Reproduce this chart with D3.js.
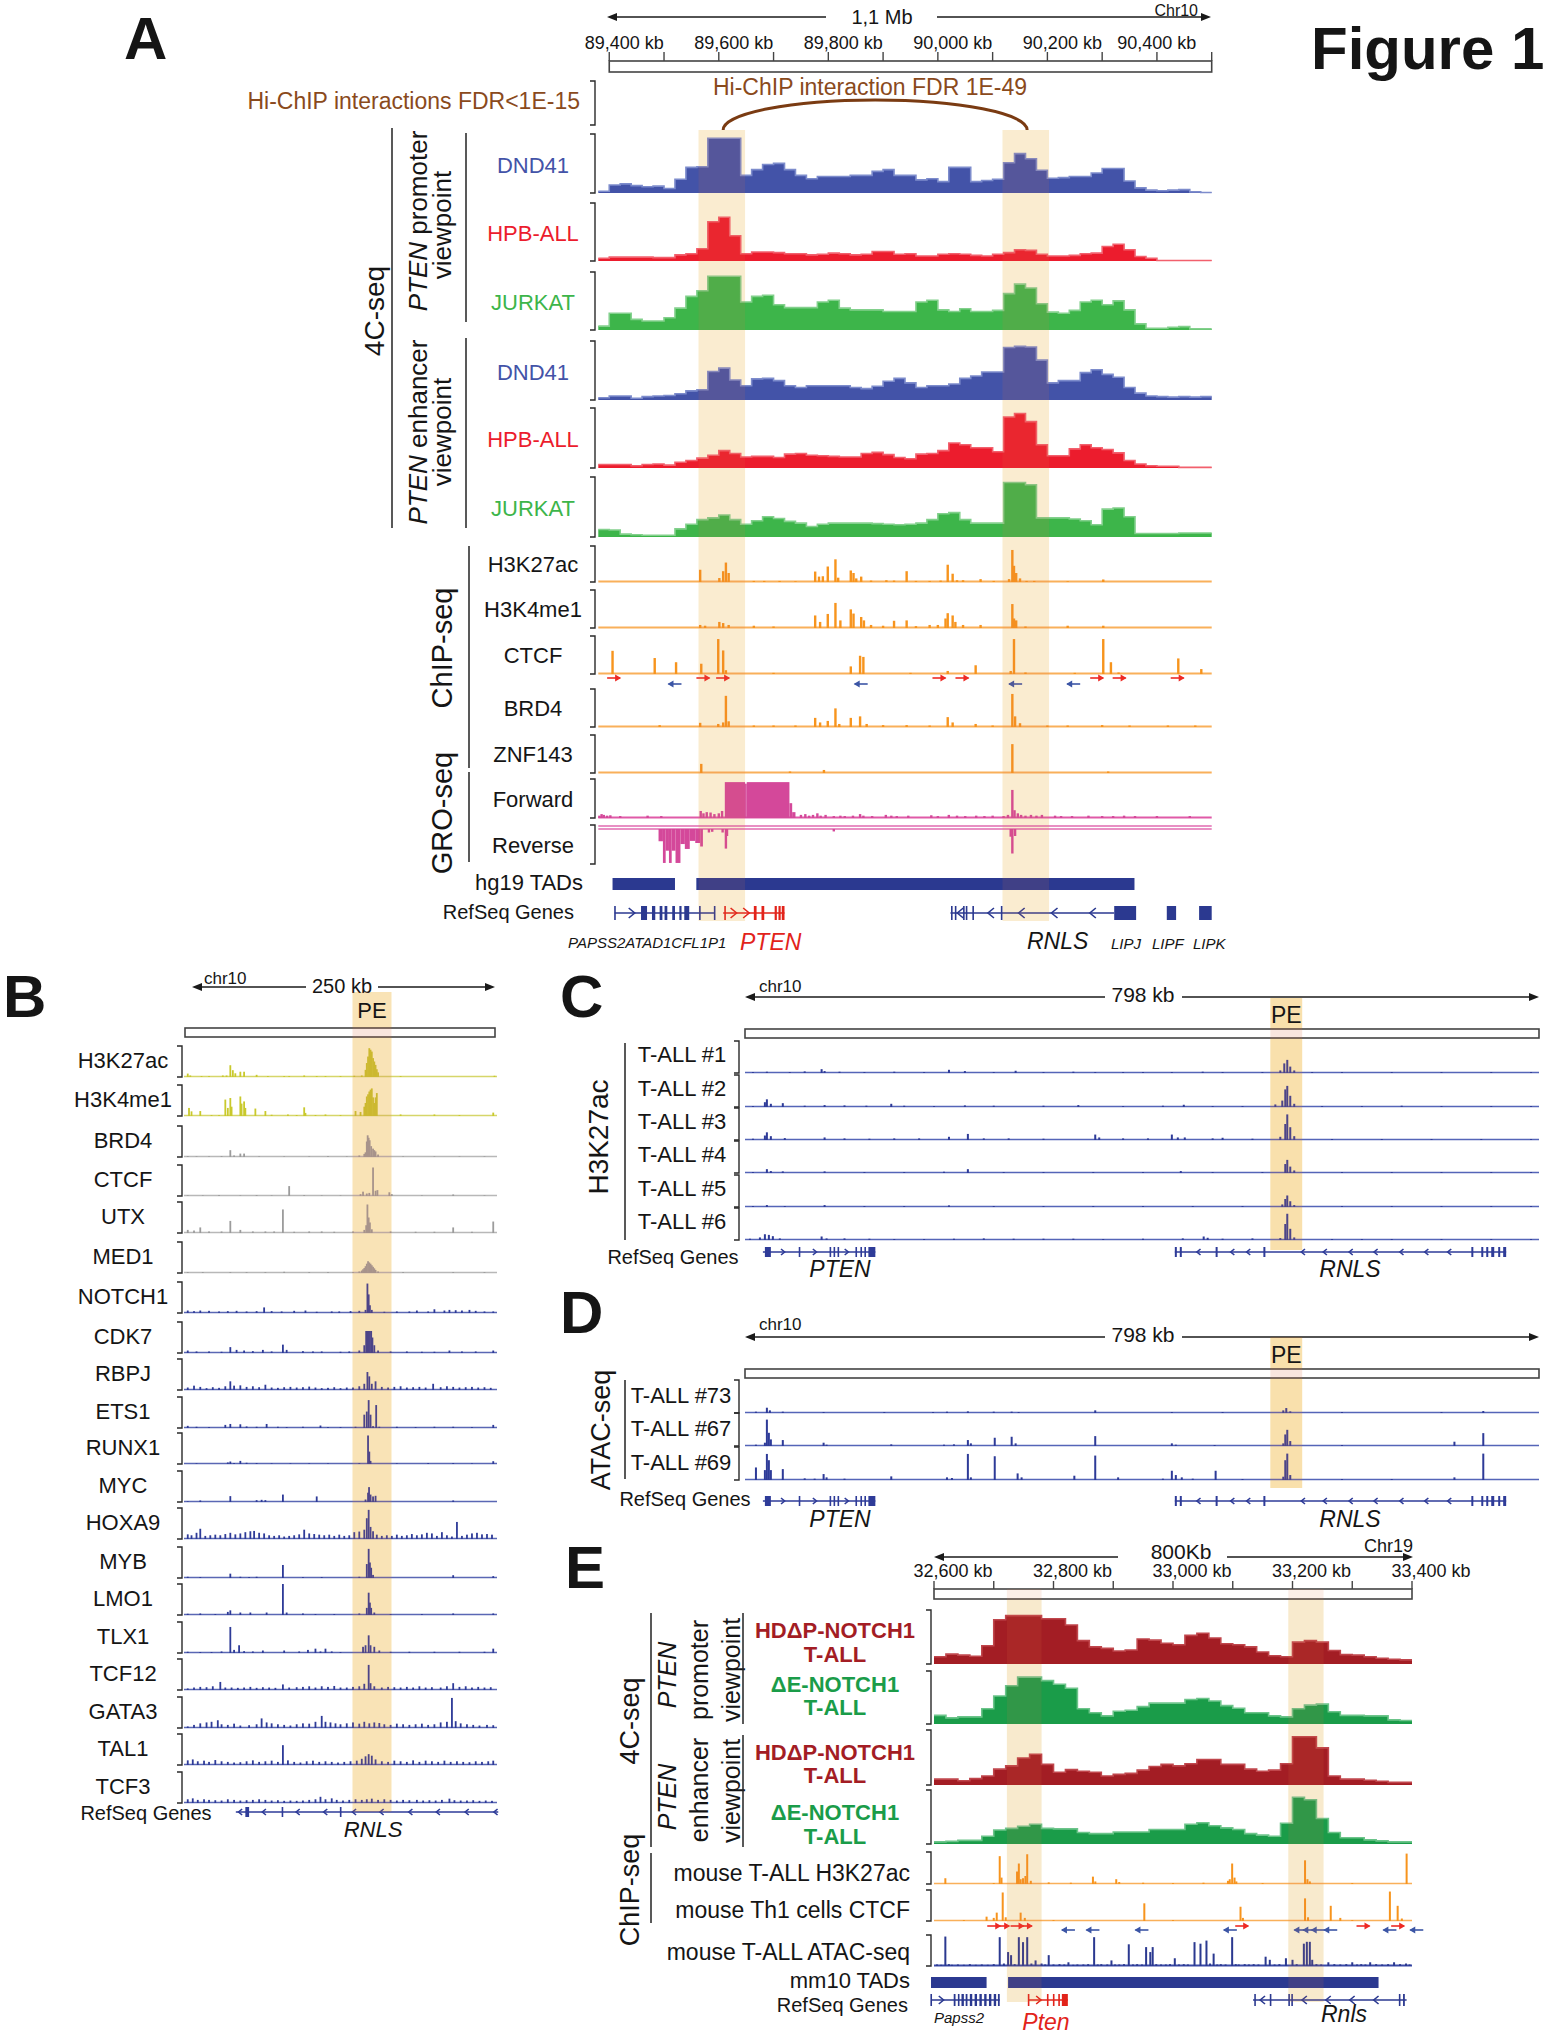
<!DOCTYPE html>
<html>
<head>
<meta charset="utf-8">
<script src="https://cdn.jsdelivr.net/npm/d3@7"></script>
<style>
html,body{margin:0;padding:0;background:#fff;}
svg{display:block;}
</style>
</head>
<body>
<svg id="fig" width="1552" height="2040" xmlns="http://www.w3.org/2000/svg"></svg>
<script>
// ============================ DATA ============================
// ---------- Panel A (chr10, kb) ----------
const A_binStart = 89380;
const A_binSize = 20;
const A_rulerTicks = [89400,89500,89600,89700,89800,89900,90000,90100,90200,90300,90400,90500];
const A_tickLabels = [[89400,"89,400 kb"],[89600,"89,600 kb"],[89800,"89,800 kb"],[90000,"90,000 kb"],[90200,"90,200 kb"],[90400,"90,400 kb"]];
const A_highlights = [[89563,89648],[90118,90203]];
const A_hichipLoop = [89608,90163];
const A_cellLines = ["DND41","HPB-ALL","JURKAT"];
// 4C-seq, PTEN promoter viewpoint (20-kb bins, % of track height)
const A_prom_DND41 = [3,14,16,13,11,12,8,24,45,46,96,96,96,31,41,50,52,41,31,25,29,29,29,31,31,38,41,31,31,23,25,20,45,45,20,22,24,53,69,60,40,26,27,29,29,35,43,43,21,9,5,4,5,6,2,1];
const A_prom_HPB = [5,7,7,7,7,6,6,11,13,22,70,78,45,13,16,16,15,13,13,11,12,14,13,11,12,17,17,12,13,9,9,12,13,12,10,9,12,15,20,19,12,9,9,10,13,14,26,30,20,8,5,1,1,1,1,1];
const A_prom_JURKAT = [7,30,30,19,16,16,22,39,60,70,96,96,96,50,60,62,45,40,40,40,50,53,39,36,36,36,33,33,33,50,53,36,33,38,33,33,35,65,82,75,47,32,30,35,50,53,45,52,36,11,3,3,5,6,2,2];
// 4C-seq, PTEN enhancer viewpoint
const A_enh_DND41 = [4,7,7,3,6,7,8,11,16,18,50,56,35,25,37,38,34,25,22,25,25,25,25,22,20,24,33,38,30,22,25,25,28,38,42,49,49,92,94,93,70,30,34,34,48,53,45,40,22,12,7,6,5,6,5,6];
const A_enh_HPB = [6,6,6,4,6,7,5,10,13,17,22,30,25,19,20,20,18,24,25,22,21,20,19,19,25,27,23,18,16,24,25,30,43,40,35,35,28,88,94,80,40,21,21,33,40,35,32,26,13,7,4,3,3,1,1,1];
const A_enh_JURKAT = [13,12,5,4,3,3,3,14,22,30,33,38,30,22,28,35,32,27,24,18,22,24,24,24,24,23,22,21,22,24,30,40,42,30,24,24,24,94,94,90,33,33,33,31,28,21,48,50,35,6,6,6,6,7,7,7];
// ChIP-seq peaks [kb, % of track height]
const A_chipNames = ["H3K27ac","H3K4me1","CTCF","BRD4","ZNF143"];
const A_H3K27ac = [[89566,34],[89601,11],[89608,30],[89613,54],[89618,25],[89664,3],[89683,3],[89711,3],[89740,2],[89776,29],[89783,15],[89790,16],[89799,43],[89813,63],[89818,12],[89841,32],[89846,25],[89851,10],[89860,15],[89878,4],[89906,5],[89920,4],[89943,30],[89960,3],[89985,3],[90005,4],[90018,48],[90027,23],[90035,5],[90046,5],[90078,8],[90102,3],[90130,8],[90136,89],[90139,45],[90143,25],[90150,10],[90162,3],[90176,3],[90237,2],[90302,7]];
const A_H3K4me1 = [[89566,8],[89575,6],[89601,16],[89608,13],[89618,8],[89664,6],[89700,4],[89776,33],[89785,16],[89799,37],[89813,66],[89822,20],[89841,49],[89846,38],[89860,29],[89865,20],[89878,8],[89900,6],[89920,19],[89943,20],[89960,5],[89985,8],[90000,8],[90014,25],[90018,39],[90027,33],[90032,16],[90046,8],[90078,8],[90136,63],[90139,25],[90143,20],[90160,4],[90237,6],[90302,6]];
const A_CTCF = [[89406,61],[89483,42],[89522,31],[89568,27],[89599,92],[89608,62],[89613,10],[89700,3],[89841,20],[89858,48],[89864,45],[89950,3],[90018,8],[90069,23],[90133,8],[90139,92],[90160,4],[90250,3],[90302,92],[90316,31],[90330,4],[90439,41],[90481,13]];
const A_BRD4 = [[89492,5],[89566,11],[89599,8],[89608,12],[89613,82],[89618,15],[89664,4],[89700,4],[89740,4],[89776,24],[89785,12],[89799,16],[89813,49],[89820,8],[89841,24],[89858,28],[89870,8],[89900,5],[89943,5],[89985,4],[90018,26],[90027,12],[90069,8],[90100,4],[90136,87],[90141,28],[90150,10],[90200,4],[90237,4],[90300,5],[90350,4],[90420,4],[90470,4]];
const A_ZNF143 = [[89568,24],[89730,4],[89792,8],[90136,76],[90311,4]];
const A_ctcfMotifFwd = [89408,89571,89607,90002,90044,90290,90331,90437];
const A_ctcfMotifRev = [89520,89860,90142,90248];
// GRO-seq [start, end, %] blocks and [kb, %] spikes
const A_groFwdBlocks = [[89611,89648,92],[89648,89651,88],[89651,89729,92],[89729,89734,38],[89734,89740,15]];
const A_groFwdSpikes = [[89382,6],[89386,10],[89390,8],[89396,6],[89402,7],[89420,5],[89470,6],[89495,5],[89567,18],[89572,12],[89578,15],[89585,14],[89592,10],[89600,12],[89606,18],[89750,8],[89758,10],[89765,6],[89772,8],[89780,12],[89786,6],[89795,8],[89810,5],[89822,6],[89830,5],[89845,6],[89858,10],[89864,6],[89880,5],[89905,8],[89915,6],[89925,5],[89946,6],[89988,7],[90000,5],[90020,8],[90035,6],[90050,5],[90070,6],[90085,5],[90100,6],[90120,5],[90128,8],[90136,72],[90140,20],[90146,12],[90152,8],[90160,6],[90170,8],[90180,6],[90190,8],[90214,6],[90225,5],[90245,5],[90275,6],[90300,5],[90320,5],[90340,6],[90360,5],[90400,5],[90460,5]];
const A_groRevBlocks = [[89490,89498,35],[89498,89503,97],[89503,89509,62],[89509,89514,97],[89514,89521,62],[89521,89530,97],[89530,89538,43],[89538,89547,57],[89547,89557,34],[89557,89566,40],[89566,89571,50]];
const A_groRevSpikes = [[89582,10],[89588,8],[89607,10],[89613,56],[89615,20],[89810,7],[90133,22],[90136,70],[90141,20]];
const A_TADs = [[89406,89520],[89559,90359]];
// RefSeq genes
const A_PAPSS2 = {span:[89410,89592], exons:[[89409,89411],[89458,89469],[89478,89484],[89492,89497],[89501,89506],[89515,89520],[89528,89532],[89537,89546],[89564,89566],[89591,89593]], fwd:[89441], rev:[]};
const A_PTEN = {span:[89608,89720], exons:[[89610,89612],[89664,89669],[89678,89683],[89702,89706],[89709,89713],[89715,89720]], fwd:[89627,89650], rev:[]};
const A_RNLS = {span:[90023,90322], exons:[[90024,90026],[90031,90033],[90046,90048],[90051,90053],[90063,90065],[90115,90117]], fwd:[], rev:[90041,90097,90153,90213,90283]};
const A_LIP = {span:[90322,90322], exons:[[90322,90362],[90418,90435],[90477,90500]], fwd:[], rev:[]};
const A_geneNames = ["PAPSS2ATAD1CFL1P1","PTEN","RNLS","LIPJ","LIPF","LIPK"];

// ---------- Panel B (250-kb window, kb from left edge) ----------
const B_highlight = [134.6,165.7];
const B_trackNames = ["H3K27ac","H3K4me1","BRD4","CTCF","UTX","MED1","NOTCH1","CDK7","RBPJ","ETS1","RUNX1","MYC","HOXA9","MYB","LMO1","TLX1","TCF12","GATA3","TAL1","TCF3"];
const B_H3K27ac = [[3,11],[5,5],[14,3],[20,3],[31,5],[34,5],[37,38],[39,22],[41,12],[45,17],[48,17],[58,7],[67,3],[80,3],[84,3],[96,5],[106,3],[113,3],[125,3],[136,4],[142,5],[145,23],[146,45],[147,66],[148,93],[149,88],[150,82],[151,61],[152,50],[153,39],[154,25],[155,15],[173,3],[248,4]];
const B_H3K4me1 = [[4,26],[6,15],[13,16],[22,3],[28,3],[33,53],[35,26],[37,58],[38,30],[45,63],[46,40],[48,47],[49,26],[57,24],[65,16],[70,4],[83,5],[90,3],[96,28],[97,10],[105,3],[113,5],[125,3],[137,16],[141,13],[144,30],[145,42],[146,63],[147,70],[148,79],[149,85],[150,89],[151,60],[152,42],[153,60],[154,74],[173,5],[200,5],[220,3],[247,11]];
const B_BRD4 = [[3,3],[10,2],[20,2],[30,3],[37,22],[40,5],[45,11],[48,11],[60,2],[80,2],[100,2],[115,3],[130,2],[140,5],[144,10],[145,15],[146,50],[146.7,70],[147.5,62],[148.3,54],[149.5,35],[151,27],[152,22],[153,18],[155,8],[175,2],[200,2],[220,2],[240,2]];
const B_CTCF = [[3,2],[15,2],[28,3],[45,2],[58,3],[70,2],[84,32],[96,3],[110,2],[125,2],[141,6],[143,14],[146,8],[148,10],[151,92],[153,17],[154.5,19],[164,12],[166,6],[190,2],[215,5],[240,2]];
const B_UTX = [[3,10],[8,8],[13,18],[20,5],[30,5],[37,39],[45,10],[55,5],[65,5],[72,5],[79,76],[88,4],[100,5],[110,5],[120,4],[135,5],[144,10],[145.5,25],[146.5,92],[147.5,50],[148.5,34],[150,12],[165,5],[185,4],[200,4],[215,18],[230,4],[247,37]];
const B_MED1 = [[3,3],[15,3],[37,3],[50,3],[65,3],[80,4],[100,3],[115,3],[135,3],[140,5],[142,8],[143,12],[144,16],[145,22],[146,30],[147,38],[148,34],[149,30],[150,25],[151,20],[152,15],[153,10],[155,5],[175,3],[215,3],[240,3]];
const B_NOTCH1 = [[3,8],[8,6],[13,8],[20,7],[28,5],[35,6],[42,7],[50,5],[58,6],[64,18],[70,6],[78,5],[88,7],[97,8],[106,4],[118,5],[124,5],[133,6],[140,7],[145,10],[146.5,95],[147.5,60],[148.5,25],[150,10],[160,4],[170,5],[180,5],[186,8],[195,5],[200,12],[208,8],[212,10],[217,9],[222,8],[228,10],[233,7],[240,5],[247,5]];
const B_CDK7 = [[3,8],[10,5],[20,5],[30,4],[37,19],[42,10],[48,8],[55,6],[63,10],[70,5],[79,27],[82,10],[95,6],[103,5],[110,5],[125,4],[132,5],[140,8],[144,25],[145.5,71],[146.5,71],[147.5,71],[148.5,71],[149.5,71],[150.5,50],[152,25],[155,8],[165,5],[178,5],[190,4],[200,4],[212,8],[222,5],[233,5],[247,8]];
const B_RBPJ = [[3,8],[8,14],[13,10],[18,6],[23,9],[28,7],[33,12],[37,28],[40,14],[45,15],[50,10],[55,12],[60,9],[65,17],[70,8],[75,7],[80,9],[85,10],[90,8],[95,9],[100,11],[105,8],[110,6],[115,7],[120,9],[125,6],[130,8],[135,8],[140,12],[144,20],[146.5,58],[148,44],[150,20],[153,28],[158,10],[163,8],[168,10],[173,12],[178,8],[183,9],[188,10],[193,8],[199,20],[205,9],[210,12],[215,10],[220,8],[225,9],[230,10],[235,8],[240,9],[245,7]];
const B_ETS1 = [[3,7],[10,4],[20,3],[33,10],[37,13],[45,12],[50,5],[58,4],[66,13],[75,4],[82,3],[95,4],[109,8],[115,3],[125,3],[137,4],[144,43],[146,53],[147.5,90],[149,43],[151,6],[153.5,74],[156,4],[170,4],[185,3],[200,4],[215,4],[230,3],[247,10]];
const B_RUNX1 = [[10,2],[35,5],[37,8],[40,3],[45,10],[50,4],[58,3],[70,2],[85,2],[100,2],[115,2],[140,3],[147,92],[148,40],[149,10],[170,2],[195,3],[215,3],[230,2],[247,9]];
const B_MYC = [[3,2],[13,5],[37,19],[58,6],[62,7],[65,6],[79,24],[106,18],[145,8],[147,30],[147.8,48],[149,24],[151,18],[153,20],[215,5]];
const B_HOXA9 = [[3,15],[6,12],[10,20],[13,33],[17,10],[21,12],[25,14],[29,12],[33,16],[37,20],[41,15],[45,18],[49,22],[53,25],[56,26],[60,20],[64,18],[68,12],[72,10],[76,12],[80,8],[84,10],[88,12],[92,15],[96,30],[100,18],[104,16],[108,14],[112,12],[116,14],[120,10],[124,14],[128,10],[132,12],[136,22],[140,24],[144,30],[146,67],[147.5,94],[149,39],[151,25],[154,14],[158,10],[162,12],[166,10],[170,14],[174,10],[178,12],[182,16],[186,12],[190,15],[194,20],[198,18],[202,10],[206,22],[210,12],[214,8],[218,55],[222,10],[226,14],[230,18],[234,20],[238,15],[242,16],[246,14]];
const B_MYB = [[3,4],[13,3],[37,14],[45,4],[52,3],[58,4],[79,42],[95,3],[110,3],[140,4],[146,45],[147.5,94],[148.5,50],[149.5,33],[151,10],[215,9],[247,6]];
const B_LMO1 = [[3,4],[13,5],[25,3],[35,10],[37,15],[45,8],[53,8],[66,8],[79,100],[82,8],[95,5],[105,3],[120,3],[140,5],[146,23],[147.5,72],[148.5,40],[149.5,23],[152,8],[165,3],[190,3],[215,5],[247,5]];
const B_TLX1 = [[3,4],[13,3],[22,3],[30,5],[37,84],[40,10],[44,25],[48,6],[55,5],[63,8],[80,8],[92,5],[99,10],[105,14],[109,5],[113,14],[118,5],[125,3],[143,20],[145,25],[147.5,57],[149,25],[152,20],[156,8],[165,4],[180,4],[200,4],[220,4],[240,4],[247,14]];
const B_TCF12 = [[3,5],[8,8],[13,10],[18,9],[23,12],[29,26],[33,8],[38,8],[43,7],[48,8],[53,10],[58,7],[63,9],[68,8],[73,7],[79,18],[84,8],[90,9],[95,10],[100,12],[105,8],[110,12],[115,10],[120,13],[125,8],[130,8],[135,10],[140,12],[144,20],[147.5,81],[149,22],[152,12],[158,8],[163,10],[168,9],[173,8],[178,10],[183,8],[188,12],[193,8],[198,9],[205,8],[210,12],[215,22],[220,10],[225,12],[230,8],[235,10],[240,8],[245,9]];
const B_GATA3 = [[3,5],[8,10],[13,15],[18,18],[22,20],[27,25],[30,12],[35,10],[40,14],[45,8],[52,9],[58,12],[62,31],[66,18],[70,15],[75,12],[80,10],[85,8],[90,12],[95,15],[100,14],[105,20],[110,39],[113,20],[117,18],[121,15],[125,12],[130,15],[135,18],[140,14],[144,20],[148,15],[152,18],[156,16],[160,12],[165,10],[170,14],[175,12],[180,10],[185,12],[190,14],[195,10],[200,12],[205,18],[210,20],[214,97],[217,22],[221,15],[226,12],[231,10],[236,8],[242,10],[247,9]];
const B_TAL1 = [[3,15],[7,18],[11,12],[16,14],[20,10],[25,16],[30,12],[35,10],[40,8],[45,9],[50,12],[55,15],[60,10],[65,12],[70,14],[75,10],[79,64],[83,15],[88,10],[93,8],[98,12],[103,14],[108,10],[113,12],[118,10],[123,8],[128,10],[133,12],[138,14],[142,20],[145,28],[147.5,35],[150,30],[153,18],[158,12],[163,10],[168,14],[173,12],[178,10],[183,15],[188,10],[193,14],[198,12],[203,10],[208,14],[213,10],[218,12],[223,10],[228,9],[233,12],[238,10],[243,12],[247,14]];
const B_TCF3 = [[3,12],[7,15],[11,10],[16,12],[20,10],[25,9],[30,8],[35,12],[40,10],[45,8],[50,9],[55,10],[60,12],[65,10],[70,8],[75,9],[80,7],[85,8],[90,7],[95,8],[100,10],[105,12],[109,20],[113,12],[118,15],[122,10],[127,8],[132,10],[137,12],[142,10],[146,12],[150,14],[155,10],[160,12],[165,10],[170,8],[175,10],[180,9],[186,10],[191,8],[196,9],[201,8],[206,10],[212,14],[216,9],[221,8],[226,8],[231,9],[236,7],[241,8],[246,7]];
const B_RNLS = {span:[41.4,251], exons:[[49,52],[78,79],[124.5,125.8]], fwd:[], rev:[45,64,91,113,136,158,181,203,226,249]};

// ---------- Panels C & D (798-kb window) ----------
const CD_highlight = [528,560];
const C_sampleNames = ["T-ALL #1","T-ALL #2","T-ALL #3","T-ALL #4","T-ALL #5","T-ALL #6"];
const C_TALL1 = [[8,3],[22,4],[45,3],[60,5],[77,12],[80,6],[95,4],[120,3],[150,4],[180,3],[205,10],[221,6],[250,3],[272,7],[300,3],[330,4],[352,3],[380,3],[400,3],[429,3],[460,4],[480,3],[520,3],[538,8],[542,30],[545,41],[548,20],[552,8],[570,3],[600,3],[650,3],[700,3],[750,3],[790,3]];
const C_TALL2 = [[8,3],[20,15],[22,24],[26,10],[38,12],[60,4],[80,6],[100,5],[122,4],[147,10],[160,4],[190,3],[221,5],[250,4],[300,4],[335,6],[380,3],[420,4],[441,7],[470,3],[500,3],[533,8],[540,20],[543,55],[545,66],[548,35],[552,10],[580,3],[620,3],[660,4],[700,3],[750,3],[790,3]];
const C_TALL3 = [[8,4],[20,14],[22,24],[26,12],[40,6],[80,8],[100,5],[125,4],[150,5],[175,5],[205,10],[224,19],[240,5],[265,5],[300,4],[352,17],[356,8],[380,5],[405,5],[429,17],[435,8],[442,8],[470,5],[480,7],[510,4],[538,10],[543,50],[545,80],[548,40],[552,12],[590,3],[640,3],[690,3],[740,3],[790,3]];
const C_TALL4 = [[8,3],[22,12],[26,6],[38,5],[80,5],[120,3],[160,3],[200,4],[224,12],[260,3],[300,3],[350,3],[400,3],[438,6],[470,3],[520,3],[543,28],[545,41],[548,20],[552,8],[600,3],[650,3],[700,3],[750,3],[790,3]];
const C_TALL5 = [[8,3],[22,6],[40,3],[80,6],[120,3],[160,3],[205,5],[250,3],[300,3],[350,3],[400,3],[450,3],[500,3],[540,8],[543,25],[545,36],[548,18],[552,6],[600,3],[650,3],[700,3],[750,3],[790,3]];
const C_TALL6 = [[5,4],[15,8],[20,18],[24,16],[28,12],[35,5],[77,11],[82,5],[100,5],[125,4],[150,3],[180,3],[210,4],[240,5],[270,4],[300,4],[330,4],[360,3],[400,4],[440,5],[461,11],[465,7],[480,4],[510,5],[538,6],[543,50],[545,82],[548,35],[552,8],[590,3],[620,3],[650,3],[700,3],[750,3],[790,3]];
const D_sampleNames = ["T-ALL #73","T-ALL #67","T-ALL #69"];
const D_TALL73 = [[11,4],[22,16],[25,8],[38,4],[79,3],[140,3],[189,3],[203,4],[224,5],[250,4],[268,4],[275,3],[352,8],[429,3],[480,3],[541,8],[544,15],[548,5],[600,3],[700,3],[742,6]];
const D_TALL67 = [[11,4],[20,10],[22,80],[24,40],[26,20],[38,18],[79,10],[82,4],[147,5],[200,4],[210,5],[224,18],[227,8],[251,25],[268,28],[272,8],[352,30],[429,8],[433,4],[472,3],[541,8],[543,35],[545,49],[548,15],[600,3],[713,13],[742,39]];
const D_TALL69 = [[11,38],[20,30],[22,79],[24,60],[26,30],[38,33],[60,5],[70,4],[79,18],[82,8],[100,4],[147,11],[203,8],[208,6],[224,79],[227,8],[251,72],[274,20],[278,8],[331,13],[352,74],[375,8],[420,4],[429,28],[433,15],[439,8],[450,4],[473,28],[500,3],[541,10],[543,60],[545,80],[548,15],[600,3],[650,3],[713,8],[742,80]];
const CD_PTEN = {span:[18,131], exons:[[20,26],[54,55.5],[85,86.5],[89,90.5],[93,94.5],[111,112.5],[116,117.5],[120,121.5],[124,131]], fwd:[38,70,102], rev:[]};
const CD_RNLS = {span:[432,765], exons:[[432,434],[437,439],[473,475],[521,523],[730,732],[740,742],[745,747],[750,753],[757,759],[762,765]], fwd:[], rev:[456,490,506,561,583,609,634,660,685,708]};

// ---------- Panel E (chr19, kb) ----------
const E_binStart = 32600;
const E_binSize = 20;
const E_rulerTicks = [32600,32700,32800,32900,33000,33100,33200,33300,33400];
const E_tickLabels = [[32600,"32,600 kb"],[32800,"32,800 kb"],[33000,"33,000 kb"],[33200,"33,200 kb"],[33400,"33,400 kb"]];
const E_highlights = [[32722,32780],[33193,33252]];
const E_4C_names = [["HD\u0394P-NOTCH1","T-ALL"],["\u0394E-NOTCH1","T-ALL"],["HD\u0394P-NOTCH1","T-ALL"],["\u0394E-NOTCH1","T-ALL"]];
const E_prom_HDdP = [14,19,17,15,35,85,93,93,93,87,87,75,45,33,30,25,27,48,46,40,37,55,59,50,39,37,33,23,16,14,42,45,42,26,18,17,14,11,9,8];
const E_prom_dE = [17,12,14,14,30,55,75,92,92,85,78,70,30,22,16,25,27,34,41,41,41,48,50,45,36,31,22,22,16,14,30,37,39,24,17,17,16,16,8,7];
const E_enh_HDdP = [11,11,8,12,17,30,36,51,58,39,24,29,26,24,17,20,22,28,35,39,36,40,48,48,39,39,30,26,28,40,91,91,70,17,11,11,9,7,5,5];
const E_enh_dE = [4,5,7,7,15,27,30,34,38,30,29,29,22,20,20,23,23,23,28,28,28,38,41,35,31,28,20,17,15,40,90,85,49,22,12,12,8,6,4,4];
const E_chipNames = ["mouse T-ALL H3K27ac","mouse Th1 cells CTCF","mouse T-ALL ATAC-seq"];
const E_H3K27ac = [[32619,18],[32700,3],[32710,87],[32713,20],[32739,39],[32742,64],[32745,15],[32749,18],[32753,25],[32756,93],[32762,10],[32792,5],[32829,4],[32866,23],[32870,8],[32905,15],[32910,6],[32950,4],[33000,3],[33051,4],[33092,10],[33095,15],[33099,64],[33103,20],[33106,8],[33150,3],[33221,74],[33225,15],[33229,8],[33300,3],[33391,95]];
const E_CTCF = [[32650,3],[32688,14],[32700,10],[32705,27],[32715,92],[32720,12],[32745,27],[32752,10],[32800,3],[32952,57],[33000,3],[33113,46],[33117,10],[33221,73],[33226,12],[33264,49],[33280,10],[33300,3],[33363,95],[33376,49],[33383,8]];
const E_ATAC = [[32605,5],[32612,4],[32619,95],[32625,6],[32630,4],[32640,5],[32650,4],[32660,6],[32670,4],[32680,5],[32690,4],[32700,6],[32710,93],[32717,8],[32724,45],[32729,35],[32735,6],[32742,93],[32749,77],[32756,93],[32763,8],[32770,18],[32780,8],[32786,5],[32792,35],[32800,5],[32810,6],[32818,5],[32825,12],[32833,4],[32840,5],[32850,5],[32858,6],[32868,93],[32874,5],[32880,6],[32890,5],[32897,18],[32903,5],[32910,5],[32918,6],[32926,70],[32933,5],[32940,6],[32948,5],[32955,61],[32962,45],[32966,61],[32972,6],[32980,5],[32988,5],[32995,6],[33003,25],[33010,5],[33018,6],[33025,5],[33036,77],[33046,72],[33056,82],[33062,8],[33068,40],[33074,5],[33080,6],[33088,5],[33099,93],[33105,6],[33110,5],[33120,6],[33127,5],[33135,6],[33143,5],[33155,30],[33162,20],[33170,5],[33178,6],[33189,25],[33200,20],[33207,6],[33219,72],[33224,78],[33229,78],[33233,20],[33240,6],[33248,5],[33260,12],[33270,6],[33280,5],[33290,6],[33300,12],[33308,5],[33315,6],[33322,5],[33330,12],[33340,6],[33350,5],[33360,6],[33370,12],[33380,6],[33390,8],[33396,5]];
const E_ctcfMotifFwd = [32700,32715,32739,32753,33115,33318,33376];
const E_ctcfMotifRev = [32825,32866,32948,33096,33214,33229,33243,33264,33363,33408];
const E_TADs = [[32595,32688],[32724,33344]];
const E_Papss2 = {span:[32595,32710], exons:[[32594,32596],[32633,32636],[32640,32642],[32646,32650],[32653,32656],[32660,32664],[32668,32672],[32676,32680],[32684,32688],[32692,32696],[32700,32704],[32707,32710]], fwd:[32612], rev:[]};
const E_Pten = {span:[32758,32824], exons:[[32757,32759],[32789,32791],[32799,32801],[32808,32810],[32814,32824]], fwd:[32775], rev:[]};
const E_Rnls = {span:[33134,33391], exons:[[33136,33138],[33162,33164],[33193,33195],[33198,33200],[33378,33380],[33385,33388]], fwd:[], rev:[33150,33220,33260,33300,33340]};
const E_geneNames = ["Papss2","Pten","Rnls"];

// ============================ DRAWING ============================
const FONT = '"Liberation Sans", Arial, Helvetica, sans-serif';
const svg = d3.select('#fig').style('font-family', FONT);
svg.append('rect').attr('width',1552).attr('height',2040).attr('fill','#fff');

function T(g, x, y, s, o = {}) {
  const t = g.append('text').attr('x', x).attr('y', y).text(s)
    .attr('font-size', o.size || 20).attr('fill', o.color || '#151515')
    .attr('text-anchor', o.anchor || 'start');
  if (o.weight) t.attr('font-weight', o.weight);
  if (o.italic) t.attr('font-style', 'italic');
  return t;
}
// rotated (bottom-to-top) text centred on (cx, cy); parts = [[text, italic], ...]
function R(g, cx, cy, parts, size, color) {
  const t = g.append('text')
    .attr('transform', `translate(${cx + 0.34 * size},${cy}) rotate(-90)`)
    .attr('text-anchor', 'middle').attr('font-size', size).attr('fill', color || '#151515');
  parts.forEach(p => t.append('tspan').text(p[0]).attr('font-style', p[1] ? 'italic' : 'normal'));
  return t;
}
function bracket(g, x, y0, y1) {
  g.append('path').attr('d', `M${x - 5},${y0}H${x}V${y1}H${x - 5}`)
    .attr('fill', 'none').attr('stroke', '#2a2a2a').attr('stroke-width', 1.4);
}
function vline(g, x, y0, y1, w) {
  g.append('line').attr('x1', x).attr('x2', x).attr('y1', y0).attr('y2', y1)
    .attr('stroke', '#222').attr('stroke-width', w || 1.5);
}
function stepArea(g, x, start, size, vals, top, bot, fill, stroke) {
  const h = bot - top;
  const pts = vals.map((v, i) => ({k: start + i * size, v}));
  pts.push({k: start + vals.length * size, v: vals[vals.length - 1]});
  const y = d => bot - d.v / 100 * h;
  g.append('path').attr('d', d3.area().x(d => x(d.k)).y0(bot).y1(y).curve(d3.curveStepAfter)(pts)).attr('fill', fill);
  g.append('path').attr('d', d3.line().x(d => x(d.k)).y(y).curve(d3.curveStepAfter)(pts))
    .attr('fill', 'none').attr('stroke', stroke).attr('stroke-width', 1.6);
}
function spikes(g, x, data, top, bot, fill, w, base, baseW) {
  const h = bot - top;
  if (base) g.append('line').attr('x1', x.range()[0]).attr('x2', x.range()[1]).attr('y1', bot - 0.5).attr('y2', bot - 0.5)
    .attr('stroke', base).attr('stroke-width', baseW || 1.5);
  g.selectAll(null).data(data).join('rect')
    .attr('x', d => x(d[0]) - w / 2).attr('width', w)
    .attr('y', d => bot - d[1] / 100 * h).attr('height', d => d[1] / 100 * h).attr('fill', fill);
}
function blocks(g, x, data, top, bot, fill, down) {
  const h = bot - top;
  g.selectAll(null).data(data).join('rect')
    .attr('x', d => x(d[0])).attr('width', d => Math.max(1, x(d[1]) - x(d[0])))
    .attr('y', d => down ? top : bot - d[2] / 100 * h).attr('height', d => d[2] / 100 * h).attr('fill', fill);
}
function downSpikes(g, x, data, top, bot, fill, w) {
  const h = bot - top;
  g.selectAll(null).data(data).join('rect')
    .attr('x', d => x(d[0]) - w / 2).attr('width', w).attr('y', top).attr('height', d => d[1] / 100 * h).attr('fill', fill);
}
function gene(g, x, y, gm, color, exH, lw, chev) {
  if (gm.span[1] > gm.span[0])
    g.append('line').attr('x1', x(gm.span[0])).attr('x2', x(gm.span[1])).attr('y1', y).attr('y2', y)
      .attr('stroke', color).attr('stroke-width', lw);
  g.selectAll(null).data(gm.exons).join('rect')
    .attr('x', d => x(d[0])).attr('width', d => Math.max(1.6, x(d[1]) - x(d[0])))
    .attr('y', y - exH / 2).attr('height', exH).attr('fill', color);
  const c = chev || 4;
  gm.fwd.forEach(k => g.append('path').attr('d', `M${x(k) - c * 0.6},${y - c}L${x(k) + c * 0.6},${y}L${x(k) - c * 0.6},${y + c}`)
    .attr('fill', 'none').attr('stroke', color).attr('stroke-width', 1.6));
  gm.rev.forEach(k => g.append('path').attr('d', `M${x(k) + c * 0.6},${y - c}L${x(k) - c * 0.6},${y}L${x(k) + c * 0.6},${y + c}`)
    .attr('fill', 'none').attr('stroke', color).attr('stroke-width', 1.6));
}
function motif(g, x, k, y, dir, color) {
  const cx = x(k), L = 13;
  const x0 = cx - L / 2, x1 = cx + L / 2;
  g.append('line').attr('x1', x0).attr('x2', x1).attr('y1', y).attr('y2', y).attr('stroke', color).attr('stroke-width', 1.6);
  const tip = dir > 0 ? x1 + 1 : x0 - 1, bk = dir > 0 ? tip - 6 : tip + 6;
  g.append('path').attr('d', `M${tip},${y}L${bk},${y - 3.5}L${bk},${y + 3.5}Z`).attr('fill', color);
}
function spanArrow(g, xL, xR, y, gL, gR) {
  const s = '#1a1a1a';
  g.append('line').attr('x1', xL + 6).attr('x2', gL).attr('y1', y).attr('y2', y).attr('stroke', s).attr('stroke-width', 1.4);
  g.append('line').attr('x1', gR).attr('x2', xR - 6).attr('y1', y).attr('y2', y).attr('stroke', s).attr('stroke-width', 1.4);
  g.append('path').attr('d', `M${xL},${y}L${xL + 10},${y - 4}L${xL + 10},${y + 4}Z`).attr('fill', s);
  g.append('path').attr('d', `M${xR},${y}L${xR - 10},${y - 4}L${xR - 10},${y + 4}Z`).attr('fill', s);
}
function rulerBox(g, xl, xr, y0, y1) {
  g.append('rect').attr('x', xl).attr('y', y0).attr('width', xr - xl).attr('height', y1 - y0)
    .attr('fill', '#fff').attr('stroke', '#444').attr('stroke-width', 1.6);
}
const TINT = [224, 112, 64];
function behindColor(target, a) {
  const b = target.map((t, i) => Math.max(0, Math.min(255, Math.round((t - a * TINT[i]) / (1 - a)))));
  return `rgb(${b.join(',')})`;
}
function bandsBehind(g, x, hs, y0, y1, target, a) {
  hs.forEach(h => g.append('rect').attr('x', x(h[0])).attr('width', x(h[1]) - x(h[0]))
    .attr('y', y0).attr('height', y1 - y0).attr('fill', behindColor(target, a)));
}
function bandsOver(g, x, hs, y0, y1, a) {
  hs.forEach(h => g.append('rect').attr('x', x(h[0])).attr('width', x(h[1]) - x(h[0]))
    .attr('y', y0).attr('height', y1 - y0).attr('fill', `rgb(${TINT.join(',')})`).attr('opacity', a));
}

// ---------------------------- PANEL A ----------------------------
(function () {
  const g = svg.append('g');
  const x = d3.scaleLinear().domain([A_binStart, A_binStart + A_binSize * A_prom_DND41.length]).range([598.3, 1211.7]);
  const bandTarget = [250, 236, 208], a = 0.12;
  bandsBehind(g, x, A_highlights, 130, 921, bandTarget, a);

  T(g, 124, 59, 'A', {size: 60, weight: 'bold'});
  T(g, 1311, 69, 'Figure 1', {size: 60, weight: 'bold'});

  // scale arrow & ruler
  spanArrow(g, 607, 1211, 17, 826, 937);
  T(g, 882, 24, '1,1 Mb', {size: 20, anchor: 'middle'});
  T(g, 1198, 16, 'Chr10', {size: 16, anchor: 'end'});
  const rx0 = x(A_rulerTicks[0]), rx1 = x(A_rulerTicks[A_rulerTicks.length - 1]);
  rulerBox(g, rx0, rx1, 61, 72);
  A_rulerTicks.forEach(t => g.append('line').attr('x1', x(t)).attr('x2', x(t)).attr('y1', 52).attr('y2', 61).attr('stroke', '#444').attr('stroke-width', 1.4));
  A_tickLabels.forEach(t => T(g, Math.min(x(t[0]) + 15, rx1 - 55), 49, t[1], {size: 18, anchor: 'middle'}));

  // Hi-ChIP
  const brown = '#8a4a1c';
  T(g, 870, 95, 'Hi-ChIP interaction FDR 1E-49', {size: 23, anchor: 'middle', color: brown});
  T(g, 580, 109, 'Hi-ChIP interactions FDR<1E-15', {size: 23, anchor: 'end', color: brown});
  bracket(g, 595, 81, 125);
  const l0 = x(A_hichipLoop[0]), l1 = x(A_hichipLoop[1]);
  g.append('path').attr('d', `M${l0},130A${(l1 - l0) / 2},30 0 0 1 ${l1},130`)
    .attr('fill', 'none').attr('stroke', '#7a3b12').attr('stroke-width', 3);

  // 4C-seq tracks
  const rows = [[134, 193], [203, 261], [272, 330], [341, 400], [408, 468], [477, 537]];
  const vals = [A_prom_DND41, A_prom_HPB, A_prom_JURKAT, A_enh_DND41, A_enh_HPB, A_enh_JURKAT];
  const fills = ['#4353a8', '#ec1c2d', '#3db54a'];
  const strokes = ['#7d8ccc', '#f2606d', '#82d08c'];
  vals.forEach((v, i) => {
    const [t, b] = rows[i];
    stepArea(g, x, A_binStart, A_binSize, v, t + 2, b, fills[i % 3], strokes[i % 3]);
    bracket(g, 595, t, b);
    T(g, 533, (t + b) / 2 + 9, A_cellLines[i % 3], {size: 22, anchor: 'middle', color: fills[i % 3]});
  });

  // ChIP-seq tracks
  const orange = '#f7941d', orangeBase = '#f9b05a';
  const crow = [[546, 582], [590, 628], [636, 674], [689, 727], [735, 773]];
  const cdata = [A_H3K27ac, A_H3K4me1, A_CTCF, A_BRD4, A_ZNF143];
  cdata.forEach((d, i) => {
    const [t, b] = crow[i];
    spikes(g, x, d, t, b, orange, 2.4, orangeBase, 2);
    bracket(g, 595, t, b);
    T(g, 533, (t + b) / 2 + 8, A_chipNames[i], {size: 22, anchor: 'middle'});
  });
  A_ctcfMotifFwd.forEach(k => motif(g, x, k, 678, 1, '#ee2a24'));
  A_ctcfMotifRev.forEach(k => motif(g, x, k, 684, -1, '#3b55a5'));

  // GRO-seq
  const pink = '#d4489a';
  const [gx0, gx1] = x.range();
  g.append('line').attr('x1', gx0).attr('x2', gx1).attr('y1', 817.5).attr('y2', 817.5).attr('stroke', '#e05aa8').attr('stroke-width', 2);
  blocks(g, x, A_groFwdBlocks, 779, 818, pink);
  spikes(g, x, A_groFwdSpikes, 779, 818, pink, 2.4);
  bracket(g, 595, 779, 818);
  T(g, 533, 807, 'Forward', {size: 22, anchor: 'middle'});
  g.append('line').attr('x1', gx0).attr('x2', gx1).attr('y1', 826).attr('y2', 826).attr('stroke', '#e06ab0').attr('stroke-width', 1.3);
  g.append('line').attr('x1', gx0).attr('x2', gx1).attr('y1', 829).attr('y2', 829).attr('stroke', '#e06ab0').attr('stroke-width', 1.3);
  blocks(g, x, A_groRevBlocks, 829, 864, pink, true);
  downSpikes(g, x, A_groRevSpikes, 829, 864, pink, 2.4);
  bracket(g, 595, 825, 864);
  T(g, 533, 853, 'Reverse', {size: 22, anchor: 'middle'});

  // TADs and genes
  const navy = '#2b3990';
  A_TADs.forEach(t => g.append('rect').attr('x', x(t[0])).attr('width', x(t[1]) - x(t[0])).attr('y', 878).attr('height', 12).attr('fill', navy));
  T(g, 583, 890, 'hg19 TADs', {size: 22, anchor: 'end'});
  gene(g, x, 913, A_PAPSS2, navy, 14, 1.5, 5);
  gene(g, x, 913, A_PTEN, '#e2231a', 14, 1.5, 5);
  gene(g, x, 913, A_RNLS, navy, 14, 1.5, 5);
  gene(g, x, 913, A_LIP, navy, 14, 1.5, 5);
  T(g, 574, 919, 'RefSeq Genes', {size: 20, anchor: 'end'});
  T(g, 568, 948, A_geneNames[0], {size: 15, italic: true});
  T(g, 740, 950, A_geneNames[1], {size: 23, italic: true, color: '#e2231a'});
  T(g, 1027, 949, A_geneNames[2], {size: 23, italic: true});
  T(g, 1111, 949, A_geneNames[3], {size: 15, italic: true});
  T(g, 1152, 949, A_geneNames[4], {size: 15, italic: true});
  T(g, 1193, 949, A_geneNames[5], {size: 15, italic: true});

  bandsOver(g, x, A_highlights, 130, 921, a);

  // group labels
  R(g, 374, 311, [['4C-seq', false]], 28);
  vline(g, 392, 128, 528);
  R(g, 418, 221, [['PTEN', true], [' promoter', false]], 26);
  R(g, 442, 225, [['viewpoint', false]], 26);
  vline(g, 466, 133, 322);
  R(g, 418, 432, [['PTEN', true], [' enhancer', false]], 26);
  R(g, 442, 432, [['viewpoint', false]], 26);
  vline(g, 466, 338, 528);
  R(g, 442, 648, [['ChIP-seq', false]], 29);
  vline(g, 469, 546, 768);
  R(g, 442, 813, [['GRO-seq', false]], 29);
  vline(g, 469, 772, 862);
})();

// ---------------------------- PANEL B ----------------------------
(function () {
  const g = svg.append('g');
  const x = d3.scaleLinear().domain([0, 250]).range([184, 497]);
  const bandTarget = [252, 228, 182], a = 0.18;
  bandsBehind(g, x, [B_highlight], 992, 1812, bandTarget, a);
  T(g, 3, 1017, 'B', {size: 60, weight: 'bold'});
  spanArrow(g, 192, 495, 987, 306, 378);
  T(g, 204, 984, 'chr10', {size: 17});
  T(g, 342, 993, '250 kb', {size: 20, anchor: 'middle'});
  rulerBox(g, 185, 495, 1028, 1037);
  const tops = [1046, 1085, 1126, 1165, 1202, 1242, 1282, 1322, 1359, 1397, 1433, 1471, 1508, 1547, 1584, 1622, 1659, 1697, 1734, 1772];
  const data = [B_H3K27ac, B_H3K4me1, B_BRD4, B_CTCF, B_UTX, B_MED1, B_NOTCH1, B_CDK7, B_RBPJ, B_ETS1, B_RUNX1, B_MYC, B_HOXA9, B_MYB, B_LMO1, B_TLX1, B_TCF12, B_GATA3, B_TAL1, B_TCF3];
  data.forEach((d, i) => {
    const t = tops[i], b = t + 31;
    const col = i < 2 ? '#c9c92c' : (i < 6 ? '#9c9c9c' : '#2e3b98');
    const base = i < 2 ? '#d6d66a' : (i < 6 ? '#b8b8b8' : '#5a67b4');
    spikes(g, x, d, t, b, col, 1.8, base, 1.3);
    bracket(g, 182, t, b);
    T(g, 123, t + 22, B_trackNames[i], {size: 22, anchor: 'middle'});
  });
  gene(g, x, 1812, B_RNLS, '#2e3b98', 10, 1.5, 3);
  T(g, 146, 1820, 'RefSeq Genes', {size: 20, anchor: 'middle'});
  T(g, 373, 1837, 'RNLS', {size: 22, italic: true, anchor: 'middle'});
  bandsOver(g, x, [B_highlight], 992, 1812, a);
  T(g, 372, 1018, 'PE', {size: 22, anchor: 'middle'});
})();

// ---------------------------- PANELS C & D ----------------------------
(function () {
  const g = svg.append('g');
  const x = d3.scaleLinear().domain([0, 798]).range([745, 1539]);
  const bandTarget = [252, 224, 172], a = 0.18;
  const navy = '#2e3b98', base = '#5565b8';
  const peX = (x(CD_highlight[0]) + x(CD_highlight[1])) / 2;
  // C
  bandsBehind(g, x, [CD_highlight], 998, 1250, bandTarget, a);
  T(g, 560, 1017, 'C', {size: 60, weight: 'bold'});
  spanArrow(g, 745, 1539, 997, 1105, 1182);
  T(g, 759, 992, 'chr10', {size: 17});
  T(g, 1143, 1002, '798 kb', {size: 21, anchor: 'middle'});
  rulerBox(g, 745, 1539, 1029, 1038);
  const cTops = [1041, 1075, 1108, 1141, 1175, 1208];
  [C_TALL1, C_TALL2, C_TALL3, C_TALL4, C_TALL5, C_TALL6].forEach((d, i) => {
    const t = cTops[i], b = t + 32;
    spikes(g, x, d, t, b, navy, 2, base, 1.4);
    bracket(g, 739, t, b);
    T(g, 682, t + 21, C_sampleNames[i], {size: 22, anchor: 'middle'});
  });
  vline(g, 625, 1043, 1240);
  R(g, 598, 1137, [['H3K27ac', false]], 28);
  gene(g, x, 1252, CD_PTEN, navy, 10, 1.5, 3);
  gene(g, x, 1252, CD_RNLS, navy, 10, 1.5, 3);
  T(g, 673, 1264, 'RefSeq Genes', {size: 20, anchor: 'middle'});
  T(g, 840, 1277, 'PTEN', {size: 23, italic: true, anchor: 'middle'});
  T(g, 1350, 1277, 'RNLS', {size: 23, italic: true, anchor: 'middle'});
  bandsOver(g, x, [CD_highlight], 998, 1250, a);
  T(g, peX, 1023, 'PE', {size: 23, anchor: 'middle'});

  // D
  bandsBehind(g, x, [CD_highlight], 1337, 1488, bandTarget, a);
  T(g, 560, 1333, 'D', {size: 60, weight: 'bold'});
  spanArrow(g, 745, 1539, 1337, 1105, 1182);
  T(g, 759, 1330, 'chr10', {size: 17});
  T(g, 1143, 1342, '798 kb', {size: 21, anchor: 'middle'});
  rulerBox(g, 745, 1539, 1369, 1378);
  const dTops = [1380, 1413, 1447];
  [D_TALL73, D_TALL67, D_TALL69].forEach((d, i) => {
    const t = dTops[i], b = t + 33;
    spikes(g, x, d, t, b, navy, 2, base, 1.4);
    bracket(g, 739, t, b);
    T(g, 681, t + 23, D_sampleNames[i], {size: 22, anchor: 'middle'});
  });
  vline(g, 625, 1380, 1479);
  R(g, 601, 1430, [['ATAC-seq', false]], 27);
  gene(g, x, 1501, CD_PTEN, navy, 10, 1.5, 3);
  gene(g, x, 1501, CD_RNLS, navy, 10, 1.5, 3);
  T(g, 685, 1506, 'RefSeq Genes', {size: 20, anchor: 'middle'});
  T(g, 840, 1527, 'PTEN', {size: 23, italic: true, anchor: 'middle'});
  T(g, 1350, 1527, 'RNLS', {size: 23, italic: true, anchor: 'middle'});
  bandsOver(g, x, [CD_highlight], 1337, 1488, a);
  T(g, peX, 1363, 'PE', {size: 23, anchor: 'middle'});
})();

// ---------------------------- PANEL E ----------------------------
(function () {
  const g = svg.append('g');
  const x = d3.scaleLinear().domain([E_binStart, E_binStart + E_binSize * E_prom_HDdP.length]).range([934, 1412]);
  const bandTarget = [249, 234, 206], a = 0.12;
  bandsBehind(g, x, E_highlights, 1589, 2002, bandTarget, a);
  T(g, 565, 1588, 'E', {size: 60, weight: 'bold'});
  spanArrow(g, 934, 1413, 1557, 1118, 1227);
  T(g, 1181, 1559, '800Kb', {size: 21, anchor: 'middle'});
  T(g, 1413, 1552, 'Chr19', {size: 18, anchor: 'end'});
  const rx0 = x(E_rulerTicks[0]), rx1 = x(E_rulerTicks[E_rulerTicks.length - 1]);
  rulerBox(g, rx0, rx1, 1589, 1599);
  E_rulerTicks.forEach(t => g.append('line').attr('x1', x(t)).attr('x2', x(t)).attr('y1', 1581).attr('y2', 1589).attr('stroke', '#444').attr('stroke-width', 1.4));
  E_tickLabels.forEach(t => T(g, x(t[0]) + 19, 1577, t[1], {size: 18, anchor: 'middle'}));

  const red = '#a31d24', green = '#1a9c49';
  const rows = [[1610, 1664], [1671, 1724], [1730, 1785], [1790, 1844]];
  const vals = [E_prom_HDdP, E_prom_dE, E_enh_HDdP, E_enh_dE];
  const lab = [[1638, 1662], [1692, 1715], [1760, 1783], [1820, 1844]];
  vals.forEach((v, i) => {
    const [t, b] = rows[i];
    const col = i % 2 === 0 ? red : green;
    stepArea(g, x, E_binStart, E_binSize, v, t + 2, b, col, i % 2 === 0 ? '#c0464c' : '#6cc48a');
    bracket(g, 931, t, b);
    T(g, 835, lab[i][0], E_4C_names[i][0], {size: 22, weight: 'bold', anchor: 'middle', color: col});
    T(g, 835, lab[i][1], E_4C_names[i][1], {size: 22, weight: 'bold', anchor: 'middle', color: col});
  });

  const orange = '#f7941d', orangeBase = '#f9b05a', navy = '#2b3990';
  const crow = [[1852, 1884], [1890, 1921], [1935, 1966]];
  spikes(g, x, E_H3K27ac, crow[0][0], crow[0][1], orange, 2, orangeBase, 1.6);
  spikes(g, x, E_CTCF, crow[1][0], crow[1][1], orange, 2, orangeBase, 1.6);
  spikes(g, x, E_ATAC, crow[2][0], crow[2][1], navy, 2, '#3a4aa8', 2);
  crow.forEach(r => bracket(g, 931, r[0], r[1]));
  T(g, 910, 1881, E_chipNames[0], {size: 23, anchor: 'end'});
  T(g, 910, 1918, E_chipNames[1], {size: 23, anchor: 'end'});
  T(g, 910, 1960, E_chipNames[2], {size: 23, anchor: 'end'});
  E_ctcfMotifFwd.forEach(k => motif(g, x, k, 1926, 1, '#ee2a24'));
  E_ctcfMotifRev.forEach(k => motif(g, x, k, 1930, -1, '#3b55a5'));

  E_TADs.forEach(t => g.append('rect').attr('x', x(t[0])).attr('width', x(t[1]) - x(t[0])).attr('y', 1977).attr('height', 11).attr('fill', navy));
  T(g, 910, 1988, 'mm10 TADs', {size: 22, anchor: 'end'});
  gene(g, x, 2000, E_Papss2, navy, 12, 1.5, 4);
  gene(g, x, 2000, E_Pten, '#e2231a', 12, 1.5, 4);
  gene(g, x, 2000, E_Rnls, navy, 12, 1.5, 4);
  T(g, 908, 2012, 'RefSeq Genes', {size: 20, anchor: 'end'});
  T(g, 934, 2023, E_geneNames[0], {size: 15, italic: true});
  T(g, 1046, 2030, E_geneNames[1], {size: 23, italic: true, anchor: 'middle', color: '#e2231a'});
  T(g, 1344, 2022, E_geneNames[2], {size: 23, italic: true, anchor: 'middle'});
  bandsOver(g, x, E_highlights, 1589, 2002, a);

  R(g, 630, 1721, [['4C-seq', false]], 27);
  vline(g, 651, 1613, 1847);
  R(g, 667, 1675, [['PTEN', true]], 25);
  R(g, 699, 1670, [['promoter', false]], 25);
  R(g, 731, 1670, [['viewpoint', false]], 25);
  vline(g, 743, 1613, 1724);
  R(g, 667, 1797, [['PTEN', true]], 25);
  R(g, 699, 1790, [['enhancer', false]], 25);
  R(g, 731, 1791, [['viewpoint', false]], 25);
  vline(g, 743, 1735, 1847);
  R(g, 630, 1890, [['ChIP-seq', false]], 27);
  vline(g, 651, 1853, 1923);
})();
</script>
</body>
</html>
